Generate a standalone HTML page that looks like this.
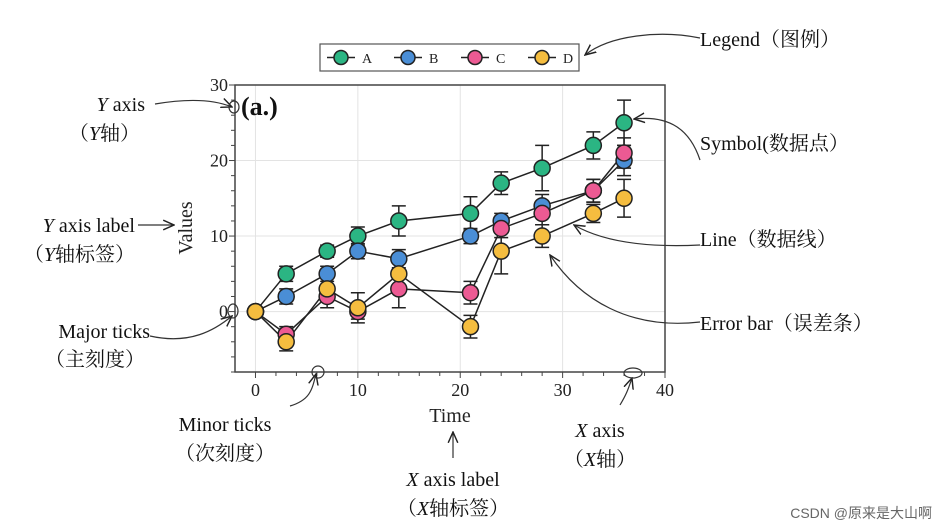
<!DOCTYPE html>
<html><head><meta charset="utf-8"><style>
body{margin:0;background:#fff;}
svg{display:block;font-family:"Liberation Serif","Noto Serif CJK SC","Noto Sans CJK SC",serif;}
.ann{font-size:20px;fill:#111;}
</style></head><body>
<svg id="chart" width="942" height="530">
<defs><marker id="ah" markerWidth="10" markerHeight="10" refX="9" refY="5" orient="auto"><path d="M0,1 L9,5 L0,9" fill="none" stroke="#222" stroke-width="1.2"/></marker></defs>
<g id="grid"></g><g id="axes"></g><g id="series"></g>
<g id="legend"></g>
<g id="anns" stroke="#333" stroke-width="1.2" fill="none">
<path d="M155,104 C190,98 215,100 232,107" marker-end="url(#ah)"/>
<path d="M138,225 L174,225" marker-end="url(#ah)"/>
<path d="M150,336 C190,345 215,330 232,316" marker-end="url(#ah)"/>
<path d="M290,406 C310,400 312,390 316,374" marker-end="url(#ah)"/>
<path d="M453,458 L453,432" marker-end="url(#ah)"/>
<path d="M620,405 C626,395 628,390 632,378" marker-end="url(#ah)"/>
<path d="M700,38 C660,30 610,35 585,55" marker-end="url(#ah)"/>
<path d="M700,160 C690,130 670,115 634,119" marker-end="url(#ah)"/>
<path d="M700,245 C640,248 600,240 574,225" marker-end="url(#ah)"/>
<path d="M700,322 C630,330 580,300 550,255" marker-end="url(#ah)"/>
<ellipse cx="234" cy="107" rx="5" ry="6"/><ellipse cx="233" cy="311" rx="5" ry="7"/>
<ellipse cx="318" cy="372" rx="6" ry="6"/><ellipse cx="633" cy="373" rx="9" ry="5"/>
</g>
<g>
<text class="ann" x="145" y="111" text-anchor="end"><tspan font-style="italic">Y</tspan> axis</text>
<text class="ann" x="140" y="140" text-anchor="end">（<tspan font-style="italic">Y</tspan>轴）</text>
<text class="ann" x="135" y="232" text-anchor="end"><tspan font-style="italic">Y</tspan> axis label</text>
<text class="ann" x="135" y="261" text-anchor="end">（<tspan font-style="italic">Y</tspan>轴标签）</text>
<text class="ann" x="150" y="338" text-anchor="end">Major ticks</text>
<text class="ann" x="145" y="366" text-anchor="end">（主刻度）</text>
<text class="ann" x="225" y="431" text-anchor="middle">Minor ticks</text>
<text class="ann" x="225" y="460" text-anchor="middle">（次刻度）</text>
<text class="ann" x="453" y="486" text-anchor="middle"><tspan font-style="italic">X</tspan> axis label</text>
<text class="ann" x="453" y="515" text-anchor="middle">（<tspan font-style="italic">X</tspan>轴标签）</text>
<text class="ann" x="600" y="437" text-anchor="middle"><tspan font-style="italic">X</tspan> axis</text>
<text class="ann" x="600" y="466" text-anchor="middle">（<tspan font-style="italic">X</tspan>轴）</text>
<text class="ann" x="700" y="46">Legend（图例）</text>
<text class="ann" x="700" y="150">Symbol(数据点）</text>
<text class="ann" x="700" y="246">Line（数据线）</text>
<text class="ann" x="700" y="330">Error bar（误差条）</text>
<text x="932" y="518" text-anchor="end" font-size="14" fill="#666" font-family="Liberation Sans, Noto Sans CJK SC, sans-serif">CSDN @原来是大山啊</text>
</g>
</svg>
<script>
const xs=[0,3,7,10,14,21,24,28,33,36];
const seriesNames=['A','B','C','D'];
const valsA=[0,5,8,10,12,13,17,19,22,25];
const valsB=[0,2,5,8,7,10,12,14,16,20];
const valsC=[0,-3,2,0,3,2.5,11,13,16,21];
const valsD=[0,-4,3,0.5,5,-2,8,10,13,15];
const errA=[0.5,1,0.8,1.2,2,2.2,1.5,3,1.8,3];
const errB=[0.5,1,1,1,1.2,1,1,1.5,1.5,2];
const errC=[0.5,1,1.5,1,2.5,1.5,1.2,1.5,1.5,2];
const errD=[0.5,1.2,1.5,2,1.5,1.5,3,1.5,1.2,2.5];
const xTicks=[0,10,20,30,40];
const yTicks=[0,10,20,30];
const colors=['#2bb583','#4a8ed6','#ec5a93','#f5bd3f'];
const NS='http://www.w3.org/2000/svg';
const L=235,R=665,T=85,B=372,xmin=-2,xmax=40,ymin=-8,ymax=30;
const X=v=>L+(v-xmin)/(xmax-xmin)*(R-L);
const Y=v=>B-(v-ymin)/(ymax-ymin)*(B-T);
function mk(p,tag,a){const e=document.createElementNS(NS,tag);for(const k in a)e.setAttribute(k,a[k]);p.appendChild(e);return e;}
const grid=document.getElementById('grid'),axes=document.getElementById('axes'),ser=document.getElementById('series');
xTicks.forEach(t=>{if(t>xmin&&t<xmax){const l=mk(grid,'line',{x1:X(t),x2:X(t),y1:T,y2:B,stroke:'#e3e3e3'});}});
yTicks.forEach(t=>{if(t>ymin&&t<ymax){const l=mk(grid,'line',{x1:L,x2:R,y1:Y(t),y2:Y(t),stroke:'#e3e3e3'});}});
const frame=mk(axes,'rect',{x:L,y:T,width:R-L,height:B-T,fill:'none',stroke:'#444','stroke-width':1.5});

for(let v=0;v<=40;v+=2){mk(axes,'line',{x1:X(v),x2:X(v),y1:B,y2:B+(v%10==0?6:4),stroke:'#444'});}
for(let v=-8;v<=30;v+=2){mk(axes,'line',{x1:L,x2:L-(v%10==0?6:4),y1:Y(v),y2:Y(v),stroke:'#444'});}
xTicks.forEach(t=>{const e=mk(axes,'text',{x:X(t),y:B+24,'text-anchor':'middle','font-size':18,fill:'#222'});e.textContent=t;});
yTicks.forEach(t=>{const e=mk(axes,'text',{x:L-7,y:Y(t)+6,'text-anchor':'end','font-size':18,fill:'#222'});e.textContent=t;});
let e=mk(axes,'text',{x:450,y:422,'text-anchor':'middle','font-size':20,fill:'#222'});e.textContent='Time';

e=mk(axes,'text',{x:0,y:0,'text-anchor':'middle','font-size':20,fill:'#222',transform:'translate(192,228) rotate(-90)'});e.textContent='Values';

e=mk(axes,'text',{x:241,y:115,'font-size':26,'font-weight':'bold',fill:'#111'});e.textContent='(a.)';

const allV=[valsA,valsB,valsC,valsD],allE=[errA,errB,errC,errD];
allV.forEach((vals,s)=>{
 const g=mk(ser,'g',{});
 const pl=mk(g,'polyline',{points:xs.map((x,i)=>X(x)+','+Y(vals[i])).join(' '),fill:'none',stroke:'#222','stroke-width':1.5});
 
 xs.forEach((x,i)=>{const er=allE[s][i],cx=X(x);
  const eb=mk(g,'path',{d:`M${cx},${Y(vals[i]-er)}V${Y(vals[i]+er)}M${cx-7},${Y(vals[i]-er)}h14M${cx-7},${Y(vals[i]+er)}h14`,stroke:'#222','stroke-width':1.5,fill:'none'});
  });
});
allV.forEach((vals,s)=>{xs.forEach((x,i)=>{const c=mk(ser,'circle',{cx:X(x),cy:Y(vals[i]),r:8,fill:colors[s],stroke:'#222','stroke-width':1.5});
 });});
const lg=document.getElementById('legend');
mk(lg,'rect',{x:320,y:44,width:259,height:27,fill:'#fff',stroke:'#555','stroke-width':1.2});
seriesNames.forEach((n,s)=>{const cx=341+s*67;
 const it=mk(lg,'g',{});
 mk(it,'line',{x1:cx-14,x2:cx+14,y1:57.5,y2:57.5,stroke:'#222','stroke-width':1.5});
 mk(it,'circle',{cx:cx,cy:57.5,r:7,fill:colors[s],stroke:'#222','stroke-width':1.5});
 const t=mk(it,'text',{x:cx+21,y:63,'font-size':14,fill:'#222'});t.textContent=n;});
</script>
</body></html>
